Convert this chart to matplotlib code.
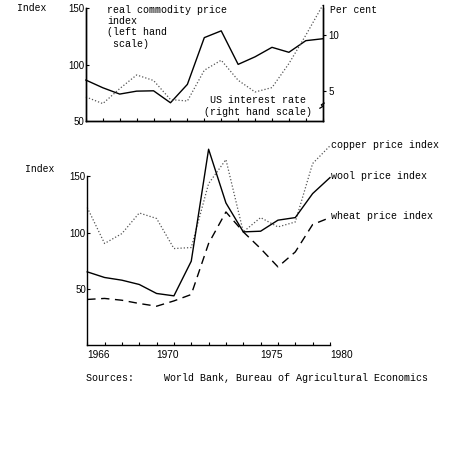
import numpy as np
import matplotlib
matplotlib.use("Agg")
from matplotlib import pyplot as plt

# years shared by both panels
years = list(range(1966, 1981))

# top panel: real commodity price index (left) and US interest rate (right)
commodity = [86.4, 79.6, 74.0, 76.6, 76.9, 66.3, 82.6, 124.0, 130.0,
             100.3, 107.0, 115.4, 111.0, 121.3, 123.0]
interest = [4.46, 3.87, 5.2, 6.41, 5.92, 4.23, 4.1, 6.83, 7.72,
            5.94, 4.9, 5.29, 7.42, 9.94, 12.6]

# bottom panel: individual price indices
wool = [65.1, 60.1, 57.7, 53.9, 45.9, 43.8, 74.6, 174.0, 126.3,
        100.6, 101.2, 111.0, 113.3, 134.6, 148.8]
copper = [122.2, 90.3, 99.1, 117.4, 112.5, 85.8, 86.7, 143.5, 164.8,
          100.6, 113.3, 105.0, 109.4, 161.3, 177.0]
wheat = [40.6, 41.5, 39.9, 37.0, 34.6, 39.3, 45.0, 90.3, 118.3,
         100.6, 85.8, 69.5, 82.8, 107.1, 113.3]

year_ticks = [1966, 1970, 1976, 1980]
year_labels = ["1966", "1970", "1975", "1980"]

mono = "Liberation Mono"
sans = "Liberation Sans"
dotted = (0, (1, 1.6))
dashed = (0, (6, 4))

fig = plt.figure(figsize=(4.52, 4.59), dpi=100)

# ---------- top panel ----------
ax1 = fig.add_axes([0.190, 0.736, 0.524, 0.246])
ax1.plot(years, commodity, color="black", lw=1.0, clip_on=False)
ax1.set_xlim(1966, 1980)
ax1.set_ylim(50, 150)
ax1.set_yticks([50, 100, 150])
ax1.set_yticklabels(["50", "100", "150"], fontfamily=sans, fontsize=7)
ax1.set_xticks(years)
ax1.set_xticklabels([])
ax1.tick_params(axis="x", direction="in", length=2, width=0.8)
ax1.tick_params(axis="y", direction="in", length=2.5, width=0.8, pad=1)
ax1.spines["top"].set_visible(False)

ax2 = ax1.twinx()
ax2.plot(years, interest, color="#555555", lw=0.9, ls=dotted, clip_on=False)
ax2.set_ylim(2.31, 12.33)
ax2.set_yticks([5, 10])
ax2.set_yticklabels(["5", "10"], fontfamily=sans, fontsize=7)
ax2.tick_params(axis="y", direction="out", length=2, width=0.8, pad=2)
ax2.spines["top"].set_visible(False)
ax2.spines["right"].set_bounds(2.31, 12.6)
for ax in (ax1, ax2):
    for s in ax.spines.values():
        s.set_linewidth(1.0)

# axis break squiggle on right scale
bx = np.array([-0.012, 0.0, -0.006, 0.006])
by = np.array([0.115, 0.13, 0.145, 0.16])
ax2.plot(1 + bx, by, color="black", lw=0.9, transform=ax2.transAxes,
         clip_on=False)

fig.text(17 / 452, 1 - 8 / 459, "Index", fontfamily=mono, fontsize=7,
         va="center", ha="left")
fig.text(330 / 452, 1 - 10 / 459, "Per cent", fontfamily=mono, fontsize=7,
         va="center", ha="left")
fig.text(107 / 452, 1 - 5 / 459,
         "real commodity price\nindex\n(left hand\n scale)",
         fontfamily=mono, fontsize=7.2, va="top", ha="left", linespacing=1.15)
fig.text(210 / 452, 1 - 100 / 459, "US interest rate", fontfamily=mono,
         fontsize=7.2, va="center", ha="left")
fig.text(204 / 452, 1 - 112 / 459, "(right hand scale)", fontfamily=mono,
         fontsize=7.2, va="center", ha="left")

# ---------- bottom panel ----------
ax3 = fig.add_axes([0.193, 0.248, 0.537, 0.368])
ax3.plot(years, copper, color="#555555", lw=0.9, ls=dotted, clip_on=False)
ax3.plot(years, wool, color="black", lw=1.0, clip_on=False)
ax3.plot(years, wheat, color="black", lw=1.0, ls=dashed, clip_on=False)
ax3.set_xlim(1966, 1980)
ax3.set_ylim(0, 150)
ax3.set_yticks([50, 100, 150])
ax3.set_yticklabels(["50", "100", "150"], fontfamily=sans, fontsize=7)
ax3.set_xticks(years)
ax3.set_xticklabels([])
ax3.tick_params(axis="x", direction="in", length=2, width=0.8)
ax3.tick_params(axis="y", direction="in", length=2.5, width=0.8, pad=1)
for s in ("top", "right"):
    ax3.spines[s].set_visible(False)
for s in ax3.spines.values():
    s.set_linewidth(1.0)
for yr, lab in zip(year_ticks, year_labels):
    ax3.text(yr, -4, lab, fontfamily=sans, fontsize=7.3, ha="left", va="top")

fig.text(25 / 452, 1 - 169 / 459, "Index", fontfamily=mono, fontsize=7,
         va="center", ha="left")
fig.text(331 / 452, 1 - 145 / 459, "copper price index", fontfamily=mono,
         fontsize=7.2, va="center", ha="left")
fig.text(331 / 452, 1 - 176 / 459, "wool price index", fontfamily=mono,
         fontsize=7.2, va="center", ha="left")
fig.text(331 / 452, 1 - 216 / 459, "wheat price index", fontfamily=mono,
         fontsize=7.2, va="center", ha="left")

fig.text(86 / 452, 1 - 378 / 459,
         "Sources:     World Bank, Bureau of Agricultural Economics",
         fontfamily=mono, fontsize=7.2, va="center", ha="left")

fig.savefig("out.png", dpi=100)
